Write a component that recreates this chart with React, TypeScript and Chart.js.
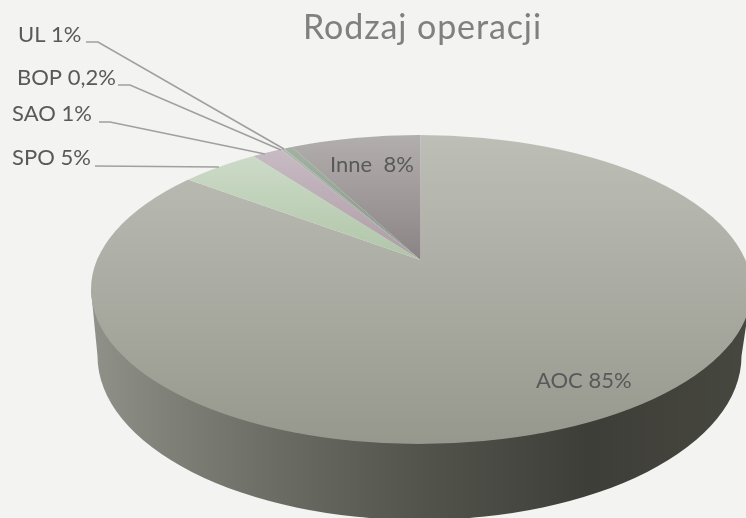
import React, { useEffect, useRef } from "react";
import { Chart, registerables } from "chart.js";

Chart.register(...registerables);

const categories = ["AOC", "SPO", "SAO", "BOP", "UL", "Inne"];
const labelShares = ["85", "5", "1", "0,2", "1", "8"];
// slice sizes as measured on the picture
const sliceShares = [85, 4.6, 1.8, 0.2, 0.5, 7.9];
const titleText = "Rodzaj operacji";

// top and bottom colours of each slice's vertical gradient
const sliceTop = ["#bdbeb6", "#d2dfce", "#cbbfc6", "#b5c0b2", "#a6b4a4", "#b3aeae"];
const sliceBottom = ["#97988d", "#b0c6a8", "#ad9ca7", "#8f9c8c", "#84978a", "#8b8486"];

// geometry of the drawn disc
const W = 746;
const H = 518;
const APEX = { x: 420.5, y: 260 };
const TOP = { cx: 418.5, cy: 289.5, rxLeft: 327.5, rxRight: 333, ry: 154.5 };
const BASE = { cx: 419.5, cy: 356, rx: 322, ry: 164 };
const SCALE_RX = 500;
const SCALE_RY = 238;

const labelStyle: Record<string, { x: number; y: number; line?: number[][]; }> = {
  UL: { x: 18, y: 35, line: [[86, 42], [98, 42], [284, 149]] },
  BOP: { x: 17, y: 78, line: [[118, 85], [130, 85], [281, 150]] },
  SAO: { x: 12, y: 114, line: [[99, 122], [110, 122], [265, 154]] },
  SPO: { x: 12, y: 158, line: [[95, 166], [219, 167]] },
  Inne: { x: 330, y: 165 },
  AOC: { x: 536, y: 381 },
};

const fmt = (i: number) => {
  const sep = categories[i] === "Inne" ? "  " : " ";
  return `${categories[i]}${sep}${labelShares[i]}%`;
};

const pie3d = {
  id: "pie3d",
  beforeDatasetsDraw(chart: any) {
    const { ctx } = chart;
    const arc = chart.getDatasetMeta(0).data[0];
    // side wall
    const grad = ctx.createLinearGradient(90, 0, 746, 0);
    grad.addColorStop(0, "#90928a");
    grad.addColorStop(0.12, "#7f8178");
    grad.addColorStop(0.3, "#696b62");
    grad.addColorStop(0.5, "#53554d");
    grad.addColorStop(0.76, "#3e3e38");
    grad.addColorStop(1, "#46473f");
    ctx.save();
    ctx.beginPath();
    ctx.moveTo(TOP.cx - TOP.rxLeft, TOP.cy);
    ctx.lineTo(BASE.cx - BASE.rx, BASE.cy);
    ctx.ellipse(BASE.cx, BASE.cy, BASE.rx, BASE.ry, 0, Math.PI, 0, true);
    ctx.lineTo(TOP.cx + TOP.rxRight, TOP.cy);
    ctx.closePath();
    ctx.fillStyle = grad;
    ctx.fill();
    ctx.restore();
    // top face: the doughnut controller draws the arcs through this transform
    ctx.save();
    ctx.beginPath();
    ctx.ellipse(TOP.cx, TOP.cy, TOP.rxRight, TOP.ry, 0, -Math.PI / 2, Math.PI / 2);
    ctx.ellipse(TOP.cx, TOP.cy, TOP.rxLeft, TOP.ry, 0, Math.PI / 2, (3 * Math.PI) / 2);
    ctx.closePath();
    ctx.clip();
    ctx.translate(APEX.x, APEX.y);
    ctx.scale(SCALE_RX / arc.outerRadius, SCALE_RY / arc.outerRadius);
    ctx.translate(-arc.x, -arc.y);
  },
  afterDatasetsDraw(chart: any) {
    chart.ctx.restore();
  },
  afterDraw(chart: any) {
    const { ctx } = chart;
    ctx.save();
    ctx.textBaseline = "alphabetic";
    ctx.textAlign = "center";
    ctx.fillStyle = "#808080";
    ctx.font = "34px Lato";
    ctx.letterSpacing = "0.9px";
    ctx.fillText(titleText, 422.5, 38.5);
    ctx.letterSpacing = "0px";
    ctx.textBaseline = "middle";
    ctx.textAlign = "left";
    ctx.font = "22px Lato";
    categories.forEach((c, i) => {
      const s = labelStyle[c];
      if (s.line) {
        ctx.beginPath();
        s.line.forEach(([x, y], j) => (j ? ctx.lineTo(x, y) : ctx.moveTo(x, y)));
        ctx.strokeStyle = "#a0a0a0";
        ctx.lineWidth = 1.7;
        ctx.stroke();
      }
      ctx.fillStyle = "#595959";
      ctx.fillText(fmt(i), s.x, s.y);
    });
    ctx.restore();
  },
};

export default function App() {
  const ref = useRef<HTMLCanvasElement>(null);
  useEffect(() => {
    document.body.style.margin = "0";
    document.body.style.background = "#f3f3f2";
    const gradient = (ctx: any, i: number) => {
      const chart = ctx.chart;
      const area = chart.chartArea;
      if (!area) return sliceTop[i];
      const R = Math.min(area.right - area.left, area.bottom - area.top) / 2;
      const cy = (area.top + area.bottom) / 2;
      const sy = SCALE_RY / R;
      const g = chart.ctx.createLinearGradient(
        0,
        cy + (135 - APEX.y) / sy,
        0,
        cy + (444 - APEX.y) / sy
      );
      const wide = i === 0;
      g.addColorStop(0, sliceTop[i]);
      g.addColorStop(wide ? 1 : 0.4, sliceBottom[i]);
      return g;
    };
    const chart = new Chart(ref.current!, {
      type: "pie",
      data: {
        labels: categories,
        datasets: [
          {
            data: sliceShares,
            borderWidth: 0,
            backgroundColor: (ctx: any) => gradient(ctx, ctx.dataIndex),
          },
        ],
      },
      options: {
        responsive: false,
        animation: false,
        events: [],
        layout: { padding: 0 },
        plugins: { legend: { display: false }, tooltip: { enabled: false } },
      },
      plugins: [pie3d],
    } as any);
    return () => chart.destroy();
  }, []);
  return <canvas ref={ref} width={W} height={H} style={{ display: "block" }} />;
}
